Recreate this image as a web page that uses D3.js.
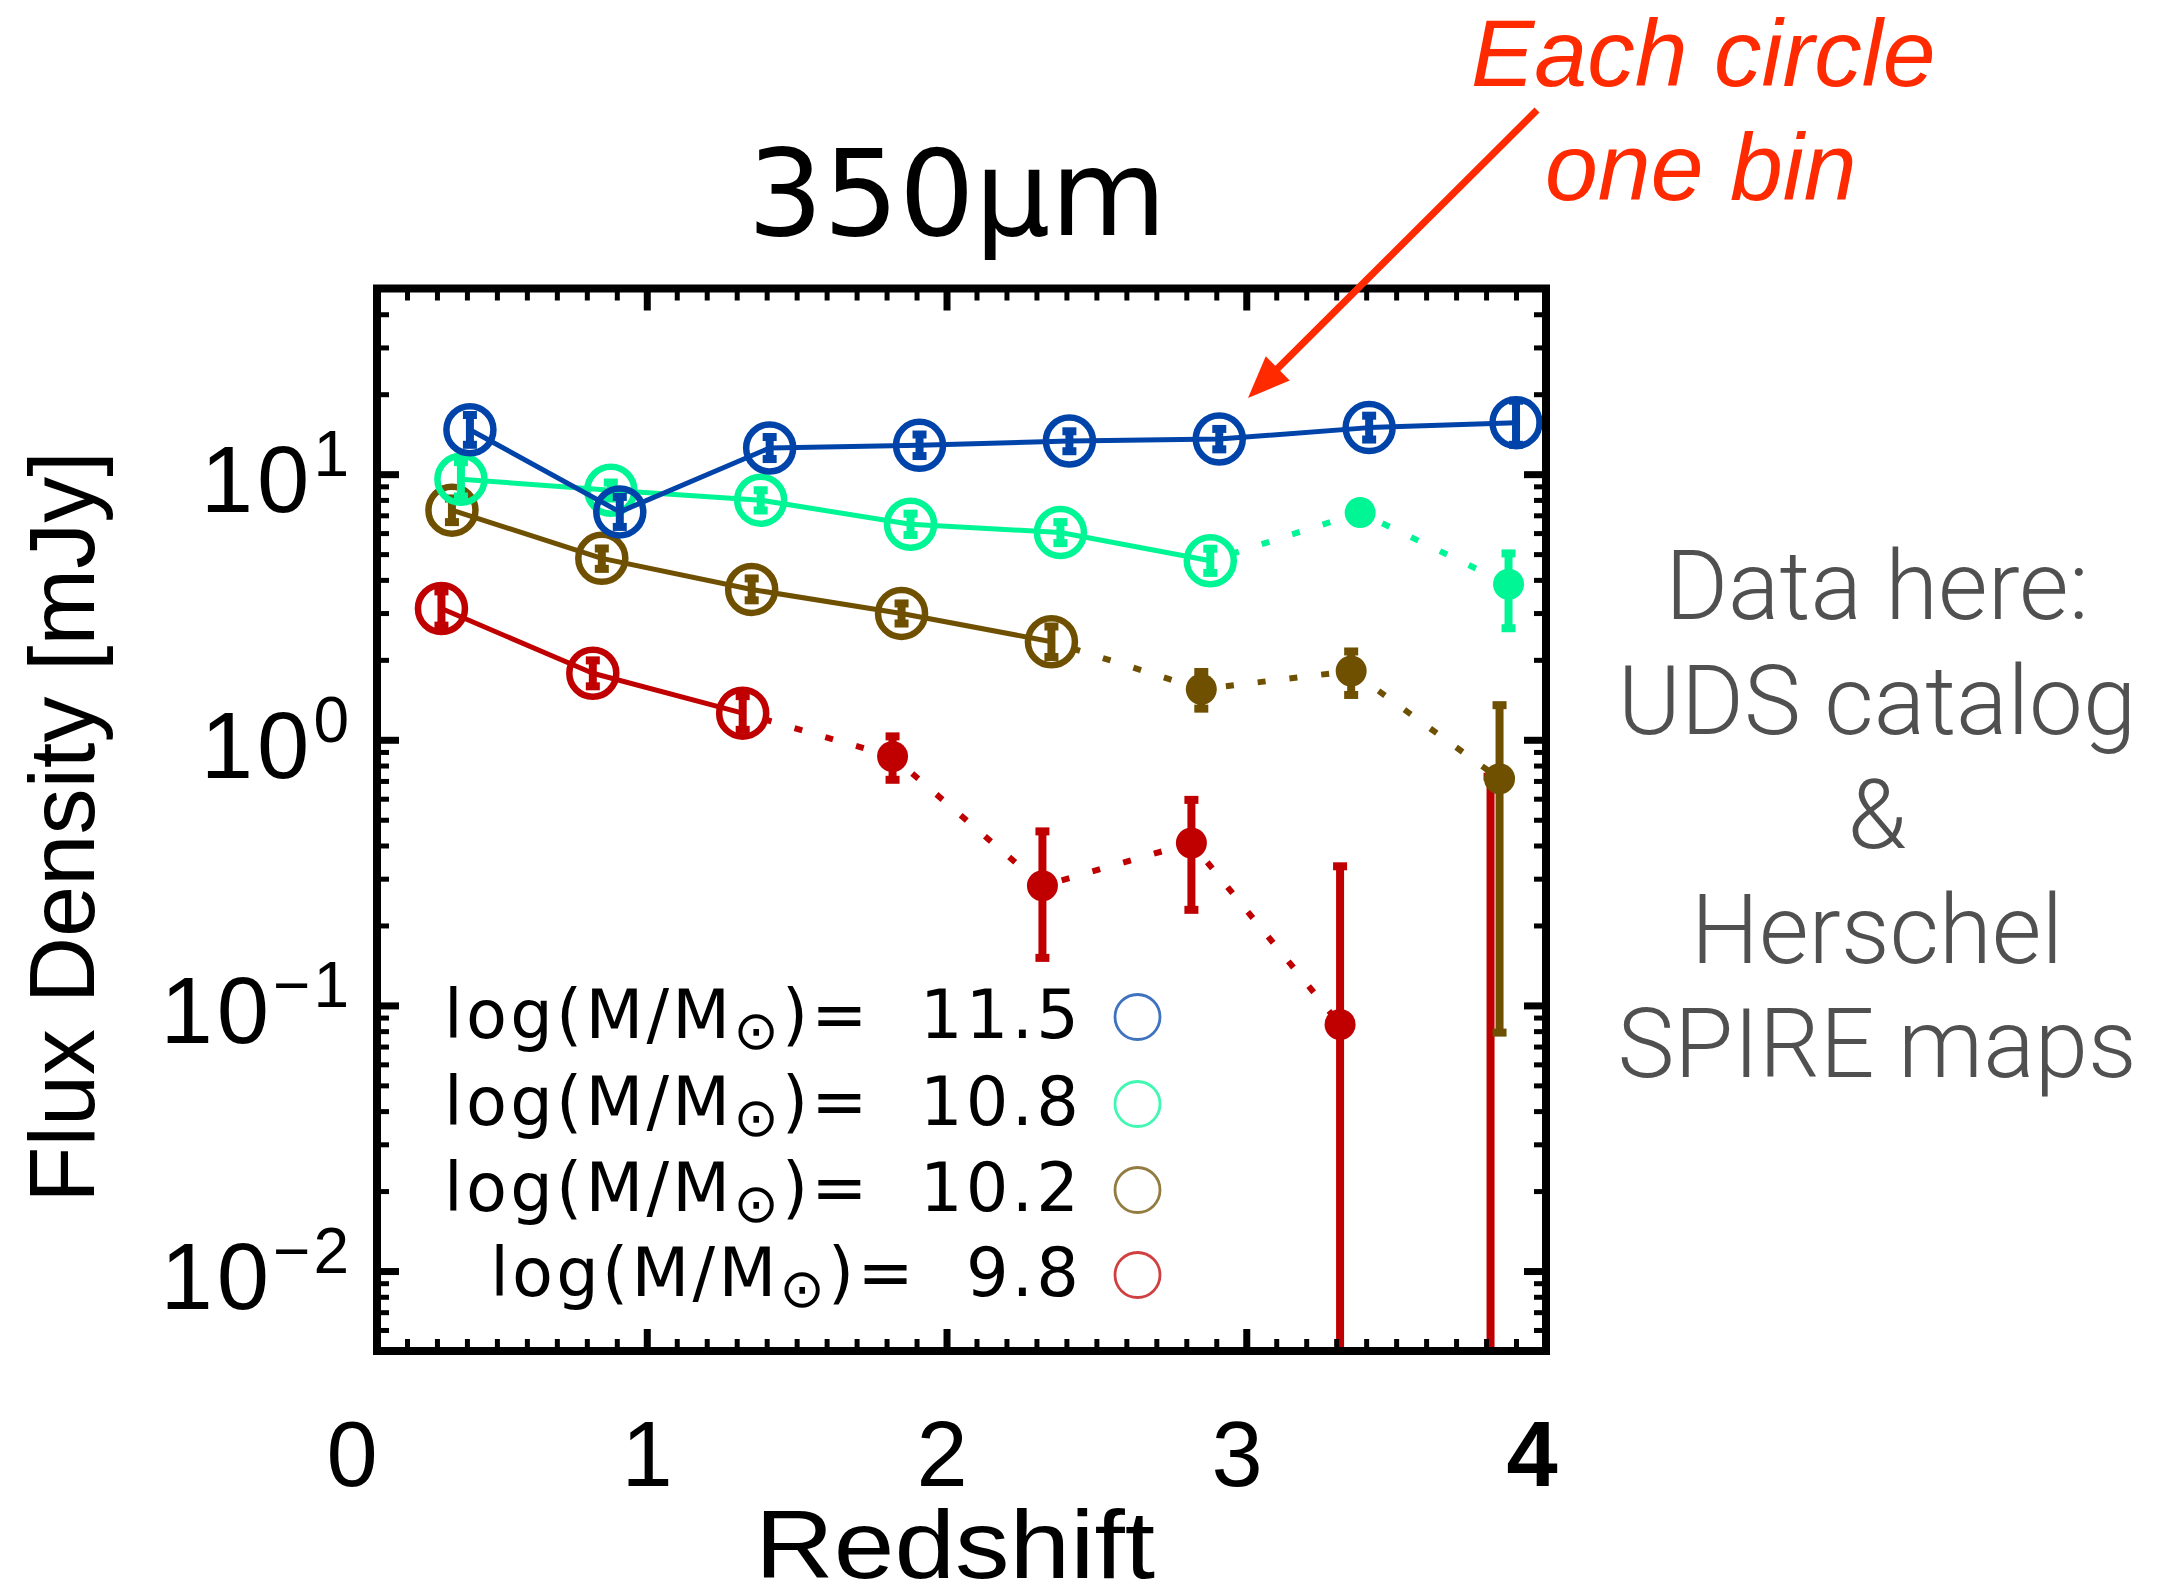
<!DOCTYPE html>
<html><head><meta charset="utf-8">
<script src="https://cdn.jsdelivr.net/npm/d3@7"></script>
<style>html,body{margin:0;padding:0;background:#fff;} svg{display:block;}</style>
</head><body>
<script>
// ---------------- DATA ----------------
const massLabels = ["11.5", "10.8", "10.2", "9.8"];

const zBlue    = [0.41, 0.91, 1.41, 1.91, 2.41, 2.91, 3.41, 3.90];
const fluxBlue = [14.7, 7.21, 12.55, 12.84, 13.33, 13.56, 14.97, 15.63];
const loBlue   = [12.9, 6.33, 11.4, 11.7, 12.2, 12.4, 13.5, 12.9];
const hiBlue   = [16.7, 8.21, 13.8, 14.1, 14.5, 14.8, 16.6, 18.9];
const openBlue = [1, 1, 1, 1, 1, 1, 1, 1];

const zGreen    = [0.38, 0.88, 1.38, 1.88, 2.38, 2.88, 3.38, 3.875];
const fluxGreen = [9.57, 8.70, 7.98, 6.48, 6.03, 4.72, 7.17, 3.85];
const loGreen   = [8.24, 8.1, 7.3, 5.9, 5.5, 4.25, 6.9, 2.63];
const hiGreen   = [11.1, 9.3, 8.7, 7.1, 6.6, 5.24, 7.5, 5.03];
const openGreen = [1, 1, 1, 1, 1, 1, 0, 0];

const zBrown    = [0.35, 0.85, 1.35, 1.85, 2.35, 2.85, 3.35, 3.845];
const fluxBrown = [7.32, 4.82, 3.68, 2.99, 2.34, 1.55, 1.816, 0.713];
const loBrown   = [6.6, 4.4, 3.35, 2.74, 2.05, 1.31, 1.475, 0.079];
const hiBrown   = [8.1, 5.25, 4.05, 3.26, 2.67, 1.80, 2.15, 1.35];
const openBrown = [1, 1, 1, 1, 1, 0, 0, 0];

const zRed    = [0.315, 0.82, 1.32, 1.82, 2.32, 2.817, 3.313, 3.815];
const fluxRed = [3.12, 1.78, 1.26, 0.865, 0.282, 0.409, 0.0848, null];
const loRed   = [2.69, 1.59, 1.09, 0.707, 0.151, 0.229, 0.001, 0.001];
const hiRed   = [3.62, 1.99, 1.46, 1.03, 0.452, 0.594, 0.334, 0.726];
const openRed = [1, 1, 1, 0, 0, 0, 0, 0];

const xDomain = [0.1, 4];
const yDomain = [0.005, 50];
const xTickLabels = [0, 1, 2, 3, 4];
const yMajorValues = [10, 1, 0.1, 0.01];
const yMajorExps = ["1", "0", "\u22121", "\u22122"];

const titleText = "350\u03bcm";
const xTitle = "Redshift";
const yTitle = "Flux Density [mJy]";
const noteLines = ["Each circle", "one bin"];
const sideLines = ["Data here:", "UDS catalog", "&", "Herschel", "SPIRE maps"];

// ---------------- STYLE ----------------
const colBlue = "#0044AA", colGreen = "#00F595", colBrown = "#6E5000", colRed = "#C00000";

const W = 2171, H = 1590;
const L = 377, R = 1546, T = 288.5, B = 1351;

const svg = d3.select("body").append("svg").attr("width", W).attr("height", H);
svg.append("rect").attr("width", W).attr("height", H).attr("fill", "#fff");

const x = d3.scaleLinear().domain(xDomain).range([L, R]);
const y = d3.scaleLog().domain(yDomain).range([B, T]);

svg.append("clipPath").attr("id", "pc").append("rect")
  .attr("x", L).attr("y", T).attr("width", R - L).attr("height", B - T);
const plot = svg.append("g").attr("clip-path", "url(#pc)");

const series = [
  {z: zRed, f: fluxRed, lo: loRed, hi: hiRed, open: openRed, c: colRed},
  {z: zBrown, f: fluxBrown, lo: loBrown, hi: hiBrown, open: openBrown, c: colBrown},
  {z: zGreen, f: fluxGreen, lo: loGreen, hi: hiGreen, open: openGreen, c: colGreen},
  {z: zBlue, f: fluxBlue, lo: loBlue, hi: hiBlue, open: openBlue, c: colBlue}
];

const line = d3.line().x(d => x(d.z)).y(d => y(d.f));

series.forEach(s => {
  const pts = s.z.map((z, i) => ({z, f: s.f[i], lo: s.lo[i], hi: s.hi[i], open: s.open[i]}));
  const openPts = pts.filter(p => p.open);
  const filledPts = pts.filter(p => !p.open && p.f != null);
  const g = plot.append("g");
  g.append("path").datum(openPts).attr("d", line)
    .attr("fill", "none").attr("stroke", s.c).attr("stroke-width", 5).attr("stroke-linejoin", "round");
  if (filledPts.length) {
    g.append("path").datum([openPts[openPts.length - 1]].concat(filledPts)).attr("d", line)
      .attr("fill", "none").attr("stroke", s.c).attr("stroke-width", 6)
      .attr("stroke-dasharray", "8,24").attr("stroke-dashoffset", -22);
  }
  pts.forEach(p => {
    g.append("line").attr("x1", x(p.z)).attr("x2", x(p.z))
      .attr("y1", y(p.lo)).attr("y2", y(p.hi))
      .attr("stroke", s.c).attr("stroke-width", 8);
    [p.lo, p.hi].forEach(v => {
      g.append("rect").attr("x", x(p.z) - 7).attr("y", y(v) - 4)
        .attr("width", 14).attr("height", 8).attr("fill", s.c);
    });
  });
  g.selectAll("circle.o").data(openPts).join("circle")
    .attr("cx", d => x(d.z)).attr("cy", d => y(d.f)).attr("r", 23.5)
    .attr("fill", "none").attr("stroke", s.c).attr("stroke-width", 6.5);
  g.selectAll("circle.f").data(filledPts).join("circle")
    .attr("cx", d => x(d.z)).attr("cy", d => y(d.f)).attr("r", 15.5)
    .attr("fill", s.c);
});

// ---------------- FRAME & TICKS ----------------
const minorX = d3.range(1, 40).map(i => i / 10).filter(v => v > xDomain[0] && v < xDomain[1] && Math.abs(v - Math.round(v)) > 1e-6);
const majorX = [1, 2, 3];
const allY = y.ticks().filter(v => v > yDomain[0] * 1.0001 && v < yDomain[1] * 0.9999);
const isPow = v => Math.abs(Math.log10(v) - Math.round(Math.log10(v))) < 1e-6;
const minorY = allY.filter(v => !isPow(v));

function drawAxis(gen, tr, vals, len, sw) {
  const g = svg.append("g").attr("transform", tr)
    .call(gen.tickValues(vals).tickSize(-len).tickFormat(""));
  g.select(".domain").remove();
  g.selectAll("line").attr("stroke", "#000").attr("stroke-width", sw);
}
drawAxis(d3.axisBottom(x), `translate(0,${B})`, minorX, 12, 5);
drawAxis(d3.axisBottom(x), `translate(0,${B})`, majorX, 22, 7);
drawAxis(d3.axisTop(x), `translate(0,${T})`, minorX, 12, 5);
drawAxis(d3.axisTop(x), `translate(0,${T})`, majorX, 22, 7);
drawAxis(d3.axisLeft(y), `translate(${L},0)`, minorY, 12, 5);
drawAxis(d3.axisLeft(y), `translate(${L},0)`, yMajorValues, 22, 7);
drawAxis(d3.axisRight(y), `translate(${R},0)`, minorY, 12, 5);
drawAxis(d3.axisRight(y), `translate(${R},0)`, yMajorValues, 22, 7);

svg.append("rect").attr("x", L).attr("y", T).attr("width", R - L).attr("height", B - T)
  .attr("fill", "none").attr("stroke", "#000").attr("stroke-width", 8);

// ---------------- TICK LABELS ----------------
const sans = "'Liberation Sans', Arial, sans-serif";
yMajorValues.forEach((v, i) => {
  const t = svg.append("text").attr("x", 352).attr("y", y(v) + 38)
    .attr("text-anchor", "end").attr("font-family", sans).attr("font-size", 94).attr("fill", "#000");
  t.append("tspan").attr("letter-spacing", 4).text("10");
  t.append("tspan").attr("font-size", 64).attr("dy", -36).attr("letter-spacing", 3).text(yMajorExps[i]);
});

const xl = d3.scaleLinear().domain([0, 4]).range([352, 1532]);
xTickLabels.forEach((v, i) => {
  svg.append("text").attr("x", xl(v)).attr("y", 1486).attr("text-anchor", "middle")
    .attr("font-family", sans).attr("font-size", 92)
    .attr("font-weight", i === xTickLabels.length - 1 ? "bold" : "normal")
    .attr("fill", "#000").text(v);
});

svg.append("text").attr("x", 955).attr("y", 1578).attr("text-anchor", "middle")
  .attr("font-family", sans).attr("font-size", 96)
  .attr("textLength", 400).attr("lengthAdjust", "spacingAndGlyphs").text(xTitle);

svg.append("text").attr("transform", "translate(94,827) rotate(-90)").attr("text-anchor", "middle")
  .attr("font-family", sans).attr("font-size", 92).text(yTitle);

svg.append("text").attr("x", 957).attr("y", 235).attr("text-anchor", "middle")
  .attr("font-family", "'DejaVu Sans', sans-serif").attr("font-size", 119).text(titleText);

// ---------------- LEGEND ----------------
const legColors = [colBlue, colGreen, colBrown, colRed];
const legBase = [1038, 1125, 1211, 1296];
const legNodes = massLabels.map((m, i) => {
  const t = svg.append("text").attr("x", 1079).attr("y", legBase[i]).attr("text-anchor", "end")
    .attr("font-family", "'DejaVu Sans', sans-serif").attr("font-size", 67).attr("fill", "#000");
  t.append("tspan").text("log(M/M");
  t.append("tspan").attr("font-size", 54).attr("dy", 11).text("\u2299");
  t.append("tspan").attr("dy", -11).text(")=\u00a0\u00a0" + m);
  svg.append("circle").attr("cx", 1137.5).attr("cy", legBase[i] - 21).attr("r", 22.5)
    .attr("fill", "none").attr("stroke", legColors[i]).attr("stroke-width", 2.8).attr("opacity", 0.75);
  return t;
});
const nat0 = legNodes[0].node().getComputedTextLength();
const kLeg = 635 / nat0;
legNodes.forEach(t => {
  const n = t.node().getComputedTextLength();
  t.attr("textLength", n * kLeg).attr("lengthAdjust", "spacing");
});

// ---------------- ANNOTATIONS ----------------
const red = "#FF2A00";
svg.append("text").attr("x", 1471).attr("y", 86).attr("font-family", sans).attr("font-style", "italic")
  .attr("font-size", 95).attr("fill", red).text(noteLines[0]);
svg.append("text").attr("x", 1545).attr("y", 200).attr("font-family", sans).attr("font-style", "italic")
  .attr("font-size", 95).attr("fill", red).text(noteLines[1]);
(function () {
  const sx = 1537, sy = 110, tx = 1248, ty = 398;
  const dx = tx - sx, dy = ty - sy, len = Math.hypot(dx, dy);
  const ux = dx / len, uy = dy / len, nx = -uy, ny = ux;
  const hl = 42, hw = 17;
  const bx = tx - hl * ux, by = ty - hl * uy;
  svg.append("line").attr("x1", sx).attr("y1", sy).attr("x2", bx + 2 * ux).attr("y2", by + 2 * uy)
    .attr("stroke", red).attr("stroke-width", 7);
  svg.append("path").attr("d", `M${tx},${ty}L${bx + hw * nx},${by + hw * ny}L${bx - hw * nx},${by - hw * ny}Z`)
    .attr("fill", red);
})();

sideLines.forEach((s, i) => {
  svg.append("text").attr("x", 1877).attr("y", 619 + i * 114.5).attr("text-anchor", "middle")
    .attr("font-family", "Roboto, 'Open Sans', sans-serif").attr("font-weight", 300)
    .attr("font-size", 96).attr("fill", "#505050").text(s);
});
</script>
</body></html>
